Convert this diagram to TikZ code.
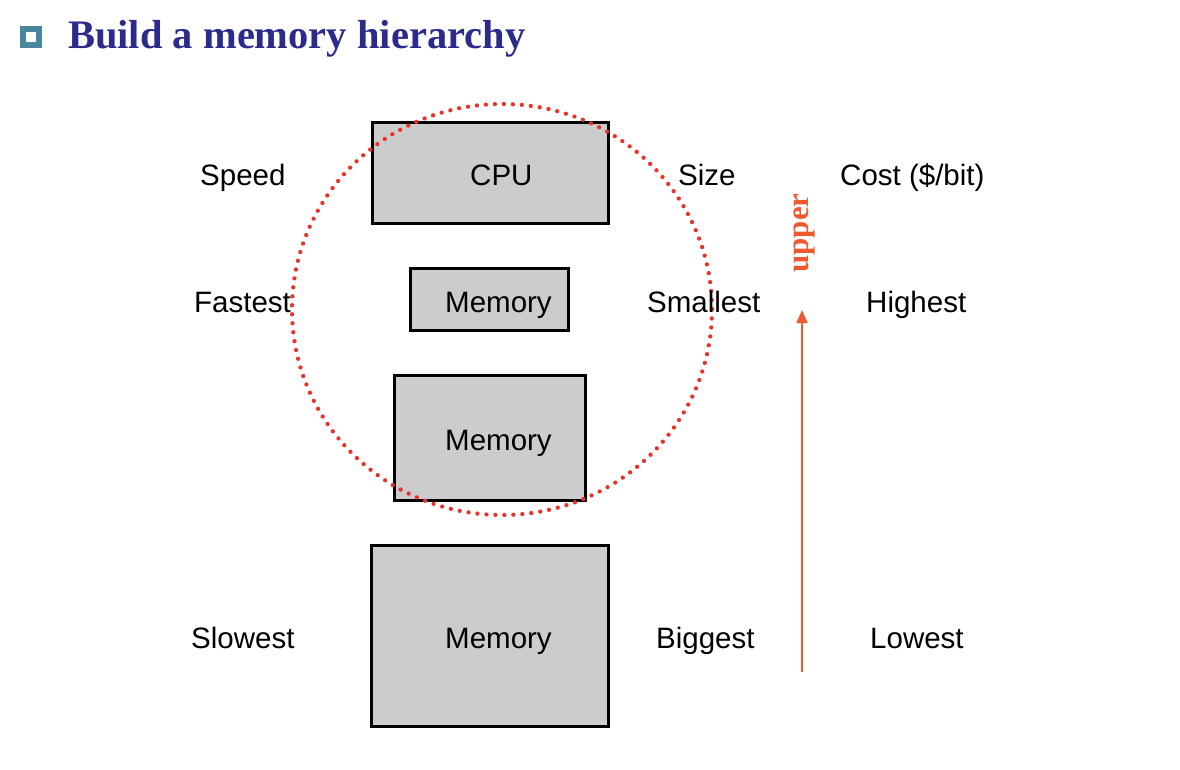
\documentclass[tikz,border=0pt]{standalone}
\usepackage{fontspec}
\setmainfont{Liberation Serif}
\setsansfont{Liberation Sans}
\usetikzlibrary{arrows.meta}
\definecolor{boxgray}{HTML}{CCCCCC}
\definecolor{dotred}{HTML}{E8322A}
\definecolor{arrred}{HTML}{EE5A30}
\definecolor{titleblue}{HTML}{2B2B8C}
\definecolor{bullet}{HTML}{4A86A0}
\tikzset{
  membox/.style={draw=black, fill=boxgray, line width=3pt},
  lbl/.style={anchor=base west, inner sep=0pt, font=\sffamily\fontsize{29.5}{34}\selectfont},
}
\begin{document}
\begin{tikzpicture}[x=1pt,y=-1pt]
\useasboundingbox (0,0) rectangle (1180,769);
% title
\draw[bullet, line width=6pt] (23,29) rectangle (39,45);
\node[anchor=base west, inner sep=0pt, text=titleblue, font=\bfseries\fontsize{40.5}{46}\selectfont] (title) at (68,48) {Build a memory hierarchy};
% boxes
\draw[membox] (372,122) rectangle (608,223);
\draw[membox] (410,268) rectangle (568,330);
\draw[membox] (394,375) rectangle (585,500);
\draw[membox] (371,545) rectangle (608,726);
% circle
\draw[dotred, line width=4.3pt, line cap=round, dash pattern=on 0pt off 9pt] (502,309.5) ellipse [x radius=210, y radius=205.5];
% box texts
\node[lbl] (cpu) at (470,185) {CPU};
\node[lbl] (m1) at (445,312) {Memory};
\node[lbl] (m2) at (445,450) {Memory};
\node[lbl] (m3) at (445,648) {Memory};
% side labels
\node[lbl] (speed) at (200,185) {Speed};
\node[lbl] (fast) at (194,312) {Fastest};
\node[lbl] (slow) at (191,648) {Slowest};
\node[lbl] (size) at (678,185) {Size};
\node[lbl] (small) at (647,312) {Smallest};
\node[lbl] (big) at (656,648) {Biggest};
\node[lbl] (cost) at (840,185) {Cost (\$/bit)};
\node[lbl] (high) at (866,312) {Highest};
\node[lbl] (low) at (870,648) {Lowest};
% arrow
\coordinate (abot) at (802,672);
\coordinate (atop) at (802,310);
\draw[arrred, line width=1.6pt, -{Triangle[length=13pt,width=11pt]}] (abot) -- (atop);
\node[rotate=90, text=arrred, inner sep=0pt, font=\bfseries\fontsize{31}{36}\selectfont] (upper) at (804,233) {upper};
\end{tikzpicture}
\end{document}
